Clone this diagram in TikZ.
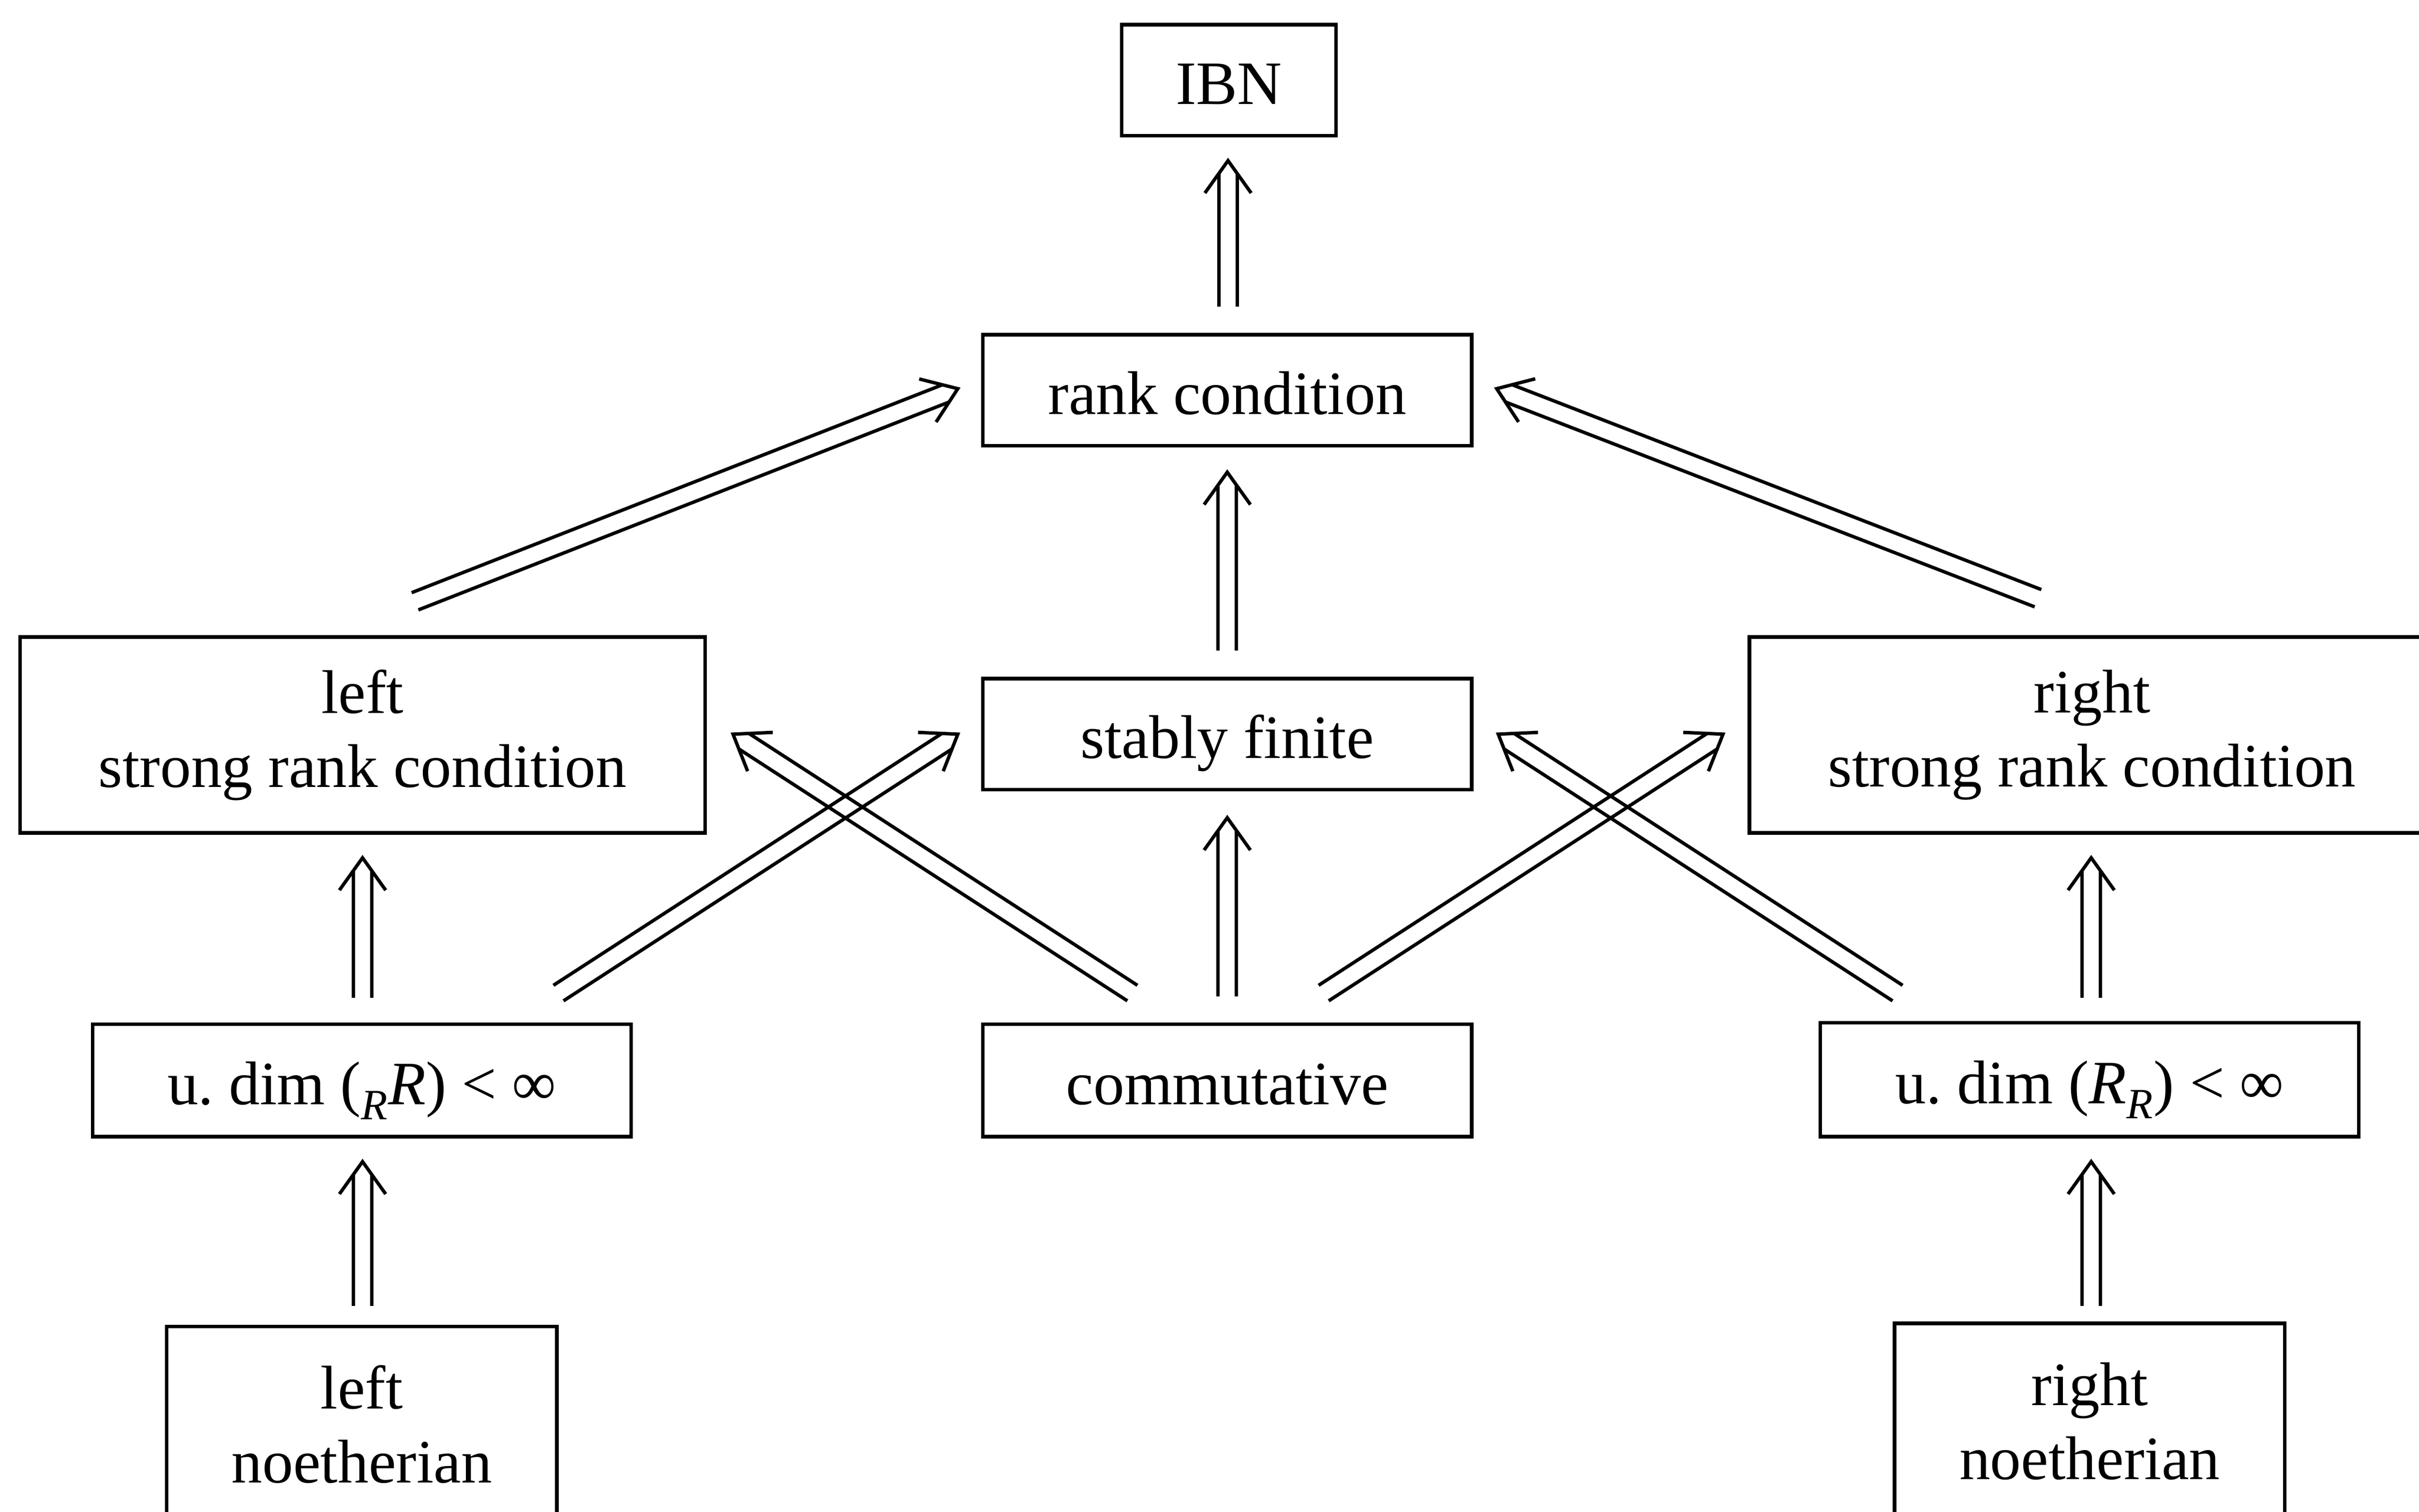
\documentclass[tikz,border=0pt]{standalone}
\usepackage{fontspec}
\setmainfont{Liberation Serif}
\usetikzlibrary{calc}
\newcommand{\dbl}[2]{%
  \path (#2) coordinate (dT) (#1) coordinate (dS);
  \coordinate (dB) at ($(dT)!21pt!(dS)$);
  \coordinate (dE) at ($(dT)!8pt!(dS)$);
  \draw[arrline] ($(dS)!6pt!90:(dT)$) -- ($(dE)!6pt!90:(dT)$);
  \draw[arrline] ($(dS)!6pt!-90:(dT)$) -- ($(dE)!6pt!-90:(dT)$);
  \draw[arrline,line join=miter] ($(dB)!15pt!90:(dT)$) -- (dT) -- ($(dB)!15pt!-90:(dT)$);
}
\begin{document}
\begin{tikzpicture}[x=1pt,y=1pt,
  box/.style={draw,line width=2.3pt,inner sep=0pt,align=center,
    font=\fontsize{40}{48}\selectfont},
  onebox/.style={box,text height=31pt,text depth=0pt},
  arrline/.style={line width=2.2pt}]
\useasboundingbox (0,0) rectangle (1568,-980);
\fill[white] (0,0) rectangle (1568,-980);
\node[onebox,minimum width=139pt,minimum height=72pt] (ibn) at (796.5,-52) {IBN};
\node[onebox,minimum width=317pt,minimum height=72pt] (rank) at (795.5,-253) {rank condition};
\node[onebox,minimum width=317pt,minimum height=72pt] (stably) at (795.5,-476) {stably finite};
\node[box,minimum width=444pt,minimum height=127pt] (lsrc) at (235,-476.5) {left\\strong rank condition};
\node[box,minimum width=444pt,minimum height=127pt] (rsrc) at (1356,-476.5) {right\\strong rank condition};
\node[onebox,minimum width=349pt,minimum height=73pt] (ul) at (234.5,-700.5) {u.\ dim (\textsubscript{\textit{R}}\textit{R}) < ∞};
\node[onebox,minimum width=317pt,minimum height=73pt] (comm) at (795.5,-700.5) {commutative};
\node[onebox,minimum width=349pt,minimum height=74pt] (ur) at (1354.5,-700) {u.\ dim (\textit{R}\textsubscript{\textit{R}}) < ∞};
\node[box,minimum width=253pt,minimum height=127pt] (ln) at (234.5,-923.5) {left\\noetherian};
\node[box,minimum width=253pt,minimum height=127pt] (rn) at (1354.5,-921.5) {right\\noetherian};
% vertical arrows
\dbl{$(rank.north)+(0.5,17)$}{$(ibn.south)+(-0.5,-15)$}
\dbl{$(stably.north)+(0,17)$}{$(rank.south)+(0,-16)$}
\dbl{$(comm.north)+(0,17)$}{$(stably.south)+(0,-17)$}
\dbl{$(ul.north)+(0.5,16)$}{$(lsrc.south)+(0,-15)$}
\dbl{$(ln.north)+(0.5,12)$}{$(ul.south)+(0.5,-15)$}
\dbl{$(ur.north)+(1,15)$}{$(rsrc.south)+(-0.5,-15)$}
\dbl{$(rn.north)+(1,10)$}{$(ur.south)+(1,-15)$}
% diagonal arrows
\dbl{$(lsrc.north)+(34,22)$}{$(rank.west)+(-15,1)$}
\dbl{$(rsrc.north)+(-35,24)$}{$(rank.east)+(15,1)$}
\dbl{$(ul.north)+(127.5,19)$}{$(stably.west)+(-15,0)$}
\dbl{$(comm.north)+(-61.5,19)$}{$(lsrc.east)+(17,0.5)$}
\dbl{$(comm.north)+(62.5,19)$}{$(rsrc.west)+(-16,0.5)$}
\dbl{$(ur.north)+(-124.5,18)$}{$(stably.east)+(16,0)$}
\end{tikzpicture}
\end{document}
